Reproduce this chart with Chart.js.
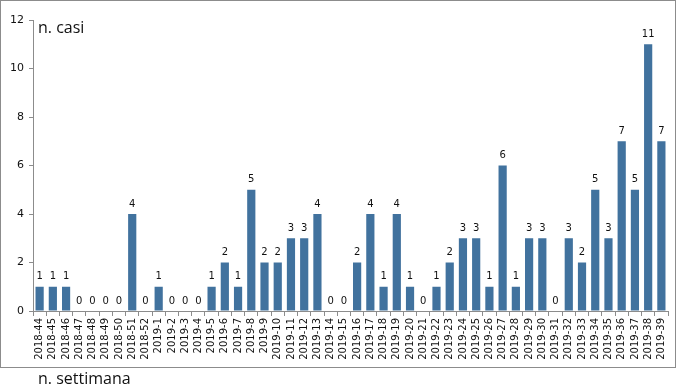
<!DOCTYPE html>
<html>
<head>
  <meta charset="utf-8" />
  <title>n. casi per settimana</title>
  <script src="https://cdn.jsdelivr.net/npm/chart.js"></script>
  <style>
    body { margin: 0; background: #fff; }
    #box { position: absolute; left: 0; top: 0; width: 674px; height: 366px; border: 1.5px solid #8c8c8c; }
    #wrap { position: absolute; left: 0; top: 0; width: 677px; height: 392px; }
    .axtitle { position: absolute; font-family: "Open Sans", sans-serif; font-size: 16px; color: #111; }
  </style>
</head>
<body>
  <div id="box"></div>
  <div id="wrap"><canvas id="casiChart" width="677" height="392"></canvas></div>
  <div class="axtitle" style="left:38px; top:16px;">n. casi</div>
  <div class="axtitle" style="left:38px; top:367px;">n. settimana</div>

  <script>
    // weeks (year-week)
    const weeks = [
      '2018-44', '2018-45', '2018-46', '2018-47', '2018-48', '2018-49', '2018-50', '2018-51', '2018-52',
      '2019-1', '2019-2', '2019-3', '2019-4', '2019-5', '2019-6', '2019-7', '2019-8', '2019-9', '2019-10',
      '2019-11', '2019-12', '2019-13', '2019-14', '2019-15', '2019-16', '2019-17', '2019-18', '2019-19', '2019-20',
      '2019-21', '2019-22', '2019-23', '2019-24', '2019-25', '2019-26', '2019-27', '2019-28', '2019-29', '2019-30',
      '2019-31', '2019-32', '2019-33', '2019-34', '2019-35', '2019-36', '2019-37', '2019-38', '2019-39'
    ];

    // cases per week
    const cases = [
      1, 1, 1, 0, 0, 0, 0, 4, 0,
      1, 0, 0, 0, 1, 2, 1, 5, 2, 2,
      3, 3, 4, 0, 0, 2, 4, 1, 4, 1,
      0, 1, 2, 3, 3, 1, 6, 1, 3, 3,
      0, 3, 2, 5, 3, 7, 5, 11, 7
    ];

    const yTicks = [0, 2, 4, 6, 8, 10, 12];

    // draws the number above each bar
    const valueLabels = {
      id: 'valueLabels',
      afterDatasetsDraw(chart) {
        const ctx = chart.ctx;
        const meta = chart.getDatasetMeta(0);
        ctx.save();
        ctx.font = '10px "DejaVu Sans"';
        ctx.fillStyle = '#111';
        ctx.textAlign = 'center';
        ctx.textBaseline = 'bottom';
        meta.data.forEach((bar, i) => {
          ctx.fillText(String(cases[i]), bar.x, bar.y - 5);
        });
        ctx.restore();
      }
    };

    const ctx = document.getElementById('casiChart').getContext('2d');
    new Chart(ctx, {
      type: 'bar',
      data: {
        labels: weeks,
        datasets: [{
          data: cases,
          backgroundColor: '#41729e',
          borderWidth: 0,
          categoryPercentage: 1.0,
          barPercentage: 0.62
        }]
      },
      options: {
        responsive: false,
        animation: false,
        layout: { padding: { left: 0, top: 20, right: 9, bottom: 0 } },
        plugins: { legend: { display: false }, tooltip: { enabled: false } },
        scales: {
          x: {
            afterFit(scale) { scale.height = 81; },
            grid: { drawOnChartArea: false, tickLength: 5, color: '#8c8c8c', offset: true },
            border: { color: '#8c8c8c' },
            ticks: {
              autoSkip: false,
              minRotation: 90,
              maxRotation: 90,
              padding: 2,
              color: '#111',
              font: { family: '"DejaVu Sans"', size: 10 }
            }
          },
          y: {
            min: 0,
            max: 12,
            afterFit(scale) { scale.width = 33; },
            afterBuildTicks(scale) { scale.ticks = yTicks.map(v => ({ value: v })); },
            grid: { drawOnChartArea: false, tickLength: 4, color: '#8c8c8c' },
            border: { color: '#8c8c8c' },
            ticks: {
              padding: 5,
              color: '#111',
              font: { family: '"DejaVu Sans"', size: 11 }
            }
          }
        }
      },
      plugins: [valueLabels]
    });
  </script>
</body>
</html>
